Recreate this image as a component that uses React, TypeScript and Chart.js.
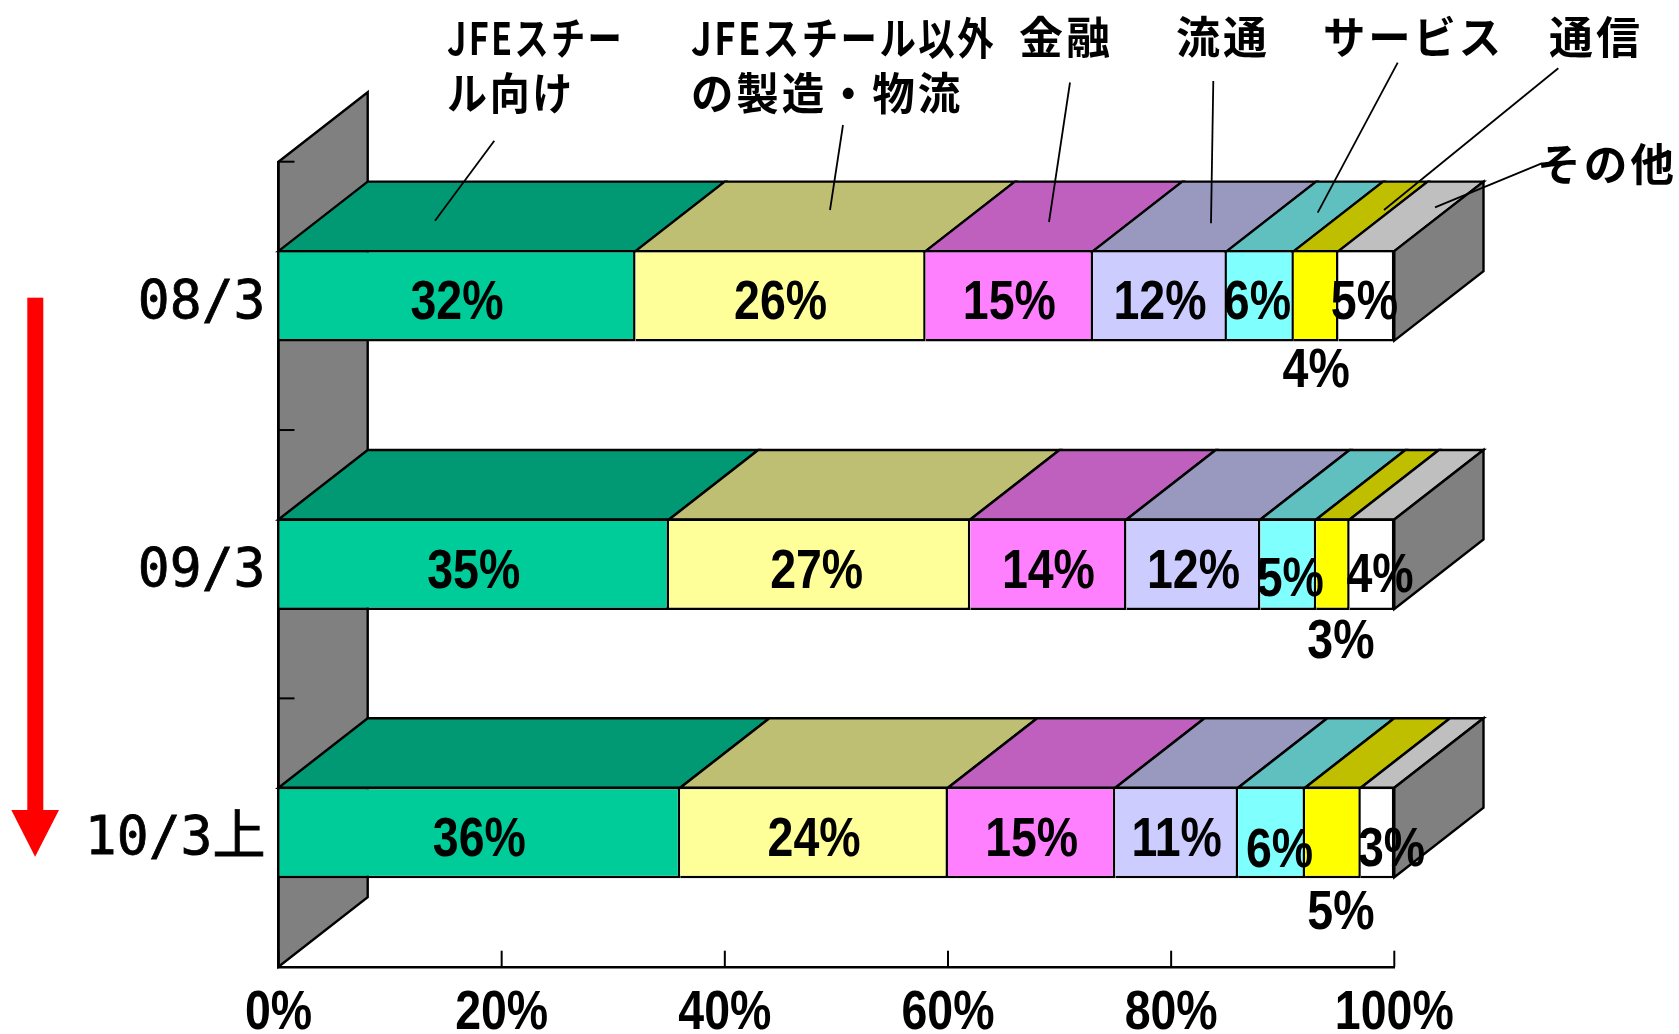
import React, { useEffect, useRef } from "react";
import { Chart, registerables } from "chart.js";

Chart.register(...registerables);

// ---- data ----
const categories = ["08/3", "09/3", "10/3上"];
const seriesNames = ["JFEスチール向け", "JFEスチール以外の製造・物流", "金融", "流通", "サービス", "通信", "その他"];
const jfeSteel = [32, 35, 36];
const otherMfg = [26, 27, 24];
const finance = [15, 14, 15];
const distribution = [12, 12, 11];
const services = [6, 5, 6];
const telecom = [4, 3, 5];
const others = [5, 4, 3];
const seriesValues = [jfeSteel, otherMfg, finance, distribution, services, telecom, others];
const xTicks = [0, 20, 40, 60, 80, 100];

// ---- styles ----
const frontColors = ["#00CC99", "#FFFF99", "#FF80FF", "#CCCCFF", "#80FFFF", "#FFFF00", "#FFFFFF"];
const topColors = ["#009973", "#BFBF73", "#BF60BF", "#9999BF", "#60BFBF", "#BFBF00", "#BFBFBF"];
const GREY = "#808080";
const DEPTH_X = 89.2;
const DEPTH_Y = 69.5;
const PLOT = { left: 278.5, right: 1394.3, top: 161.7, bottom: 966.7 };
const SANS = '"Liberation Sans", sans-serif';
const CJK = '"Noto Sans CJK JP", sans-serif';
const MONO = '"DejaVu Sans Mono", "Noto Sans CJK JP", monospace';
const NARROWING = 0.83;
const LINE = 2.4;

// label nudges, per [series][row]: dx, dy from the centre of the segment
const labelNudges: number[][][] = [
  [[0, 0], [0, 0], [0, 0]],
  [[0, 0], [-3, 0], [0, 0]],
  [[0, 0], [0, 0], [0, 0]],
  [[0, 0], [0, 0], [0, 0]],
  [[-3, 0], [2, 8], [8, 11]],
  [[0, 68], [8, 70], [8, 73]],
  [[-2, 0], [8, 4], [14, 10]],
];

const callouts = [
  { lines: ["JFEスチー", "ル向け"], x: 447, widths: [177, 128], ys: [38, 93], leader: [494.3, 140.7, 435, 220.7] },
  { lines: ["JFEスチール以外", "の製造・物流"], x: 691, widths: [305, 272], ys: [38, 93], leader: [843, 125, 830, 210] },
  { lines: ["金融"], x: 1019, widths: [94], ys: [37], leader: [1070, 82.5, 1049, 222] },
  { lines: ["流通"], x: 1176, widths: [94], ys: [37], leader: [1213.3, 81, 1211, 223.3] },
  { lines: ["サービス"], x: 1323, widths: [181], ys: [37], leader: [1397.7, 62.7, 1317.7, 212.7] },
  { lines: ["通信"], x: 1549, widths: [94], ys: [37], leader: [1558.3, 68.3, 1384, 210] },
  { lines: ["その他"], x: 1537, widths: [140], ys: [164], leader: [1541.7, 163.3, 1435, 207.3] },
];

function poly(ctx: CanvasRenderingContext2D, pts: number[][], fill: string) {
  ctx.beginPath();
  pts.forEach(([x, y], i) => (i ? ctx.lineTo(x, y) : ctx.moveTo(x, y)));
  ctx.closePath();
  ctx.fillStyle = fill;
  ctx.fill();
  ctx.strokeStyle = "#000";
  ctx.lineWidth = LINE;
  ctx.lineJoin = "miter";
  ctx.stroke();
}

const wallPlugin = {
  id: "wall",
  beforeDraw(chart: any) {
    const { ctx, chartArea: a, scales } = chart;
    ctx.save();
    poly(ctx, [
      [a.left, a.top],
      [a.left + DEPTH_X, a.top - DEPTH_Y],
      [a.left + DEPTH_X, a.bottom - DEPTH_Y],
      [a.left, a.bottom],
    ], GREY);
    // category boundary ticks on the wall
    ctx.strokeStyle = "#000";
    ctx.lineWidth = 2;
    const step = scales.y.getPixelForValue(1) - scales.y.getPixelForValue(0);
    categories.forEach((_, i) => {
      const y = scales.y.getPixelForValue(i) - step / 2;
      ctx.beginPath();
      ctx.moveTo(a.left, y);
      ctx.lineTo(a.left + 16, y);
      ctx.stroke();
    });
    ctx.restore();
  },
};

const depthPlugin = {
  id: "depth",
  beforeDatasetsDraw(chart: any) {
    const { ctx, chartArea: a, scales } = chart;
    ctx.save();
    // inward ticks of the value axis
    ctx.strokeStyle = "#000";
    ctx.lineWidth = 2;
    xTicks.forEach((v) => {
      const x = scales.x.getPixelForValue(v);
      ctx.beginPath();
      ctx.moveTo(x, a.bottom);
      ctx.lineTo(x, a.bottom - 16);
      ctx.stroke();
    });
    chart.data.datasets.forEach((_: any, di: number) => {
      chart.getDatasetMeta(di).data.forEach((bar: any) => {
        const t = bar.y - bar.height / 2 + 1;
        poly(ctx, [
          [bar.base, t],
          [bar.base + DEPTH_X, t - DEPTH_Y],
          [bar.x + DEPTH_X, t - DEPTH_Y],
          [bar.x, t],
        ], topColors[di]);
        if (di === chart.data.datasets.length - 1) {
          const b = bar.y + bar.height / 2 - 1;
          poly(ctx, [
            [bar.x, t],
            [bar.x + DEPTH_X, t - DEPTH_Y],
            [bar.x + DEPTH_X, b - DEPTH_Y],
            [bar.x, b],
          ], GREY);
        }
      });
    });
    ctx.restore();
  },
};

const overlayPlugin = {
  id: "overlay",
  afterDatasetsDraw(chart: any) {
    const { ctx } = chart;
    ctx.save();
    // value labels
    ctx.font = `bold 56px ${SANS}`;
    ctx.fillStyle = "#000";
    ctx.textAlign = "center";
    ctx.textBaseline = "middle";
    chart.data.datasets.forEach((ds: any, di: number) => {
      chart.getDatasetMeta(di).data.forEach((bar: any, ri: number) => {
        const [dx, dy] = labelNudges[di][ri];
        const text = `${ds.data[ri]}%`;
        ctx.fillText(text, (bar.x + bar.base) / 2 + dx, bar.y + 8 + dy, ctx.measureText(text).width * NARROWING);
      });
    });
    // callout leaders
    ctx.strokeStyle = "#000";
    ctx.lineWidth = 1.8;
    callouts.forEach(({ leader: [x1, y1, x2, y2] }) => {
      ctx.beginPath();
      ctx.moveTo(x1, y1);
      ctx.lineTo(x2, y2);
      ctx.stroke();
    });
    // callout texts
    ctx.font = `bold 44px ${CJK}`;
    ctx.textAlign = "left";
    ctx.textBaseline = "middle";
    (ctx as any).letterSpacing = "3px";
    callouts.forEach((c) => {
      c.lines.forEach((line, i) => ctx.fillText(line, c.x, c.ys[i], c.widths[i]));
    });
    (ctx as any).letterSpacing = "0px";
    // red arrow
    ctx.fillStyle = "#FF0000";
    ctx.fillRect(27.3, 297.7, 16, 512.3);
    ctx.beginPath();
    ctx.moveTo(11.3, 810);
    ctx.lineTo(59, 810);
    ctx.lineTo(35.1, 856.7);
    ctx.closePath();
    ctx.fill();
    ctx.restore();
  },
};

// adjusts chart.js's own tick label items: horizontal narrowing and a vertical shift
function tuneLabels(scale: any, font: string, narrowing: number, shiftY: number) {
  if (scale.__tuned) return;
  scale.__tuned = true;
  const original = scale.getLabelItems;
  scale.getLabelItems = function (area: any) {
    const ctx = scale.ctx;
    ctx.save();
    ctx.font = font;
    const items = original.call(scale, area).map((it: any) => ({
      ...it,
      options: {
        ...it.options,
        maxWidth: ctx.measureText(String(it.label)).width * narrowing,
        translation: [it.options.translation[0], it.options.translation[1] + shiftY],
      },
    }));
    ctx.restore();
    return items;
  };
}

export default function App() {
  const ref = useRef<HTMLCanvasElement>(null);
  useEffect(() => {
    const chart = new Chart(ref.current!, {
      type: "bar",
      data: {
        labels: categories,
        datasets: seriesNames.map((name, i) => ({
          label: name,
          data: seriesValues[i],
          backgroundColor: frontColors[i],
          borderColor: "#000",
          borderWidth: 2.5,
          categoryPercentage: 1,
          barPercentage: 0.341,
        })),
      },
      options: {
        indexAxis: "y",
        responsive: false,
        animation: false,
        layout: {
          padding: {
            left: 0,
            right: 1679 - PLOT.right,
            top: PLOT.top,
            bottom: 0,
          },
        },
        plugins: { legend: { display: false }, title: { display: false }, tooltip: { enabled: false } },
        scales: {
          x: {
            type: "linear",
            stacked: true,
            min: 0,
            max: 100,
            afterFit: (s: any) => {
              s.height = 1034 - PLOT.bottom;
              tuneLabels(s, `bold 56px ${SANS}`, NARROWING, -5);
            },
            afterBuildTicks: (s: any) => { s.ticks = xTicks.map((value) => ({ value })); },
            grid: { display: false, drawTicks: false },
            border: { display: true, color: "#000", width: 2.4, z: 1 },
            ticks: {
              autoSkip: false,
              maxRotation: 0,
              color: "#000",
              padding: 18,
              font: { family: SANS, size: 56, weight: "bold" },
              callback: (v: any) => `${v}%`,
            },
          },
          y: {
            type: "category",
            stacked: true,
            afterFit: (s: any) => {
              s.width = PLOT.left;
              tuneLabels(s, `53px ${MONO}`, 1, 8);
            },
            grid: { display: false, drawTicks: false },
            border: { display: true, color: "#000", width: 2.4, z: 1 },
            ticks: {
              color: "#000",
              padding: 13,
              textStrokeColor: "#000",
              textStrokeWidth: 0.8,
              font: { family: MONO, size: 53 },
            },
          },
        },
      },
      plugins: [wallPlugin, depthPlugin, overlayPlugin],
    } as any);
    return () => chart.destroy();
  }, []);
  return (
    <canvas
      ref={ref}
      width={1679}
      height={1034}
      style={{ position: "fixed", left: 0, top: 0, width: 1679, height: 1034, display: "block", background: "#fff" }}
    />
  );
}
